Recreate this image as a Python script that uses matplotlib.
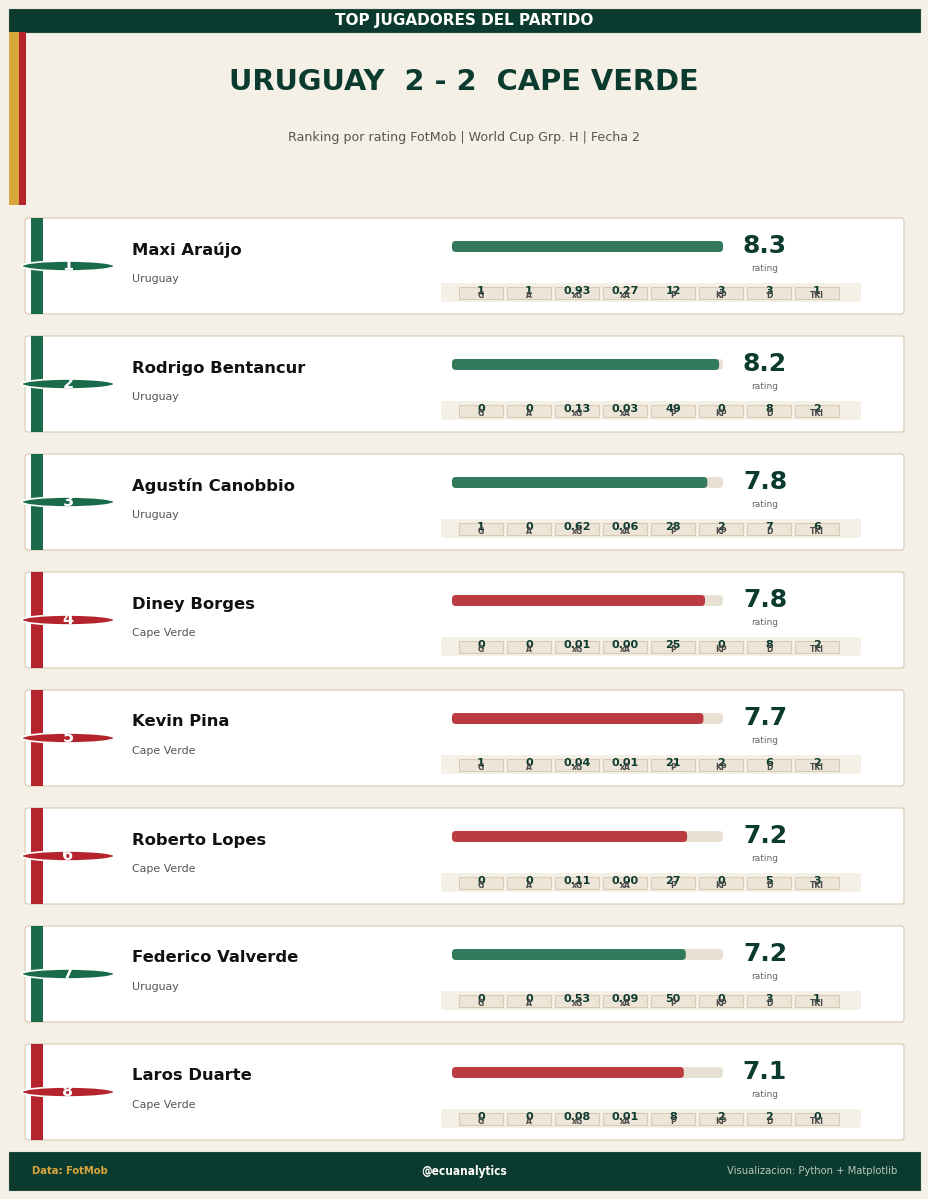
import matplotlib
matplotlib.use("Agg")
import matplotlib.pyplot as plt
from matplotlib.patches import Rectangle, FancyBboxPatch, Ellipse

# ---------------- datos ----------------
names = ["Maxi Araújo", "Rodrigo Bentancur", "Agustín Canobbio", "Diney Borges",
         "Kevin Pina", "Roberto Lopes", "Federico Valverde", "Laros Duarte"]
teams = ["Uruguay", "Uruguay", "Uruguay", "Cape Verde",
         "Cape Verde", "Cape Verde", "Uruguay", "Cape Verde"]
ratings = [8.30, 8.18, 7.82, 7.75, 7.70, 7.20, 7.16, 7.10]

stat_labels = ["G", "A", "xG", "xA", "P", "KP", "D", "TKl"]
goals = [1, 0, 1, 0, 1, 0, 0, 0]
assists = [1, 0, 0, 0, 0, 0, 0, 0]
xg = [0.93, 0.13, 0.62, 0.01, 0.04, 0.11, 0.53, 0.08]
xa = [0.27, 0.03, 0.06, 0.00, 0.01, 0.00, 0.09, 0.01]
passes = [12, 49, 28, 25, 21, 27, 50, 8]
key_passes = [3, 0, 2, 0, 2, 0, 0, 2]
duels = [3, 8, 7, 8, 6, 5, 3, 2]
tackles = [1, 2, 6, 2, 2, 3, 1, 0]

# ---------------- estilo ----------------
BG = "#f5f0e6"
DARK = "#0b3a2e"
GOLD = "#d9a63c"
RED = "#b5242c"
GREEN = "#1a6b4a"
team_color = {"Uruguay": GREEN, "Cape Verde": RED}

W, H = 929, 1199
fig = plt.figure(figsize=(W / 100, H / 100), dpi=100, facecolor=BG)
ax = fig.add_axes([0, 0, 1, 1])
ax.set_xlim(0, W)
ax.set_ylim(H, 0)
ax.axis("off")

# cabecera
ax.add_patch(Rectangle((9, 9), 911, 23, facecolor=DARK, edgecolor="#1d4a3d", lw=0.8))
ax.text(464, 20.5, "TOP JUGADORES DEL PARTIDO", color="white", fontsize=11,
        fontweight="bold", ha="center", va="center")
ax.add_patch(Rectangle((9, 32), 10, 173, facecolor=GOLD, edgecolor="none"))
ax.add_patch(Rectangle((19, 32), 7, 173, facecolor=RED, edgecolor="none"))

ax.text(464, 82, "URUGUAY  2 - 2  CAPE VERDE", color=DARK, fontsize=20.8,
        fontweight="bold", ha="center", va="center")
ax.text(464, 138, "Ranking por rating FotMob | World Cup Grp. H | Fecha 2",
        color="#555555", fontsize=9.1, ha="center", va="center")

# ---------------- tarjetas ----------------
max_r = max(ratings)
x0_bar, bar_w = 452, 271
box_x0, box_step, box_w = 459, 48, 44

for i in range(len(names)):
    top = 218 + 118 * i
    col = team_color[teams[i]]
    ax.add_patch(FancyBboxPatch((25, top), 879, 96,
                                boxstyle="round,pad=0,rounding_size=3",
                                facecolor="white", edgecolor="#ddd2bf", lw=1))
    ax.add_patch(Rectangle((31, top), 12, 96, facecolor=col, edgecolor="none"))
    ax.add_patch(Ellipse((68, top + 48), 93, 10, facecolor=col, edgecolor="white", lw=1.2))
    ax.text(68, top + 48, str(i + 1), color="white", fontsize=11.5, fontweight="bold",
            ha="center", va="center")

    ax.text(132, top + 32, names[i], color="#111111", fontsize=11.8,
            fontweight="bold", ha="left", va="center")
    ax.text(132, top + 61, teams[i], color="#555555", fontsize=7.9,
            ha="left", va="center")

    # barra de rating
    ax.add_patch(FancyBboxPatch((x0_bar, top + 23), bar_w, 11,
                                boxstyle="round,pad=0,rounding_size=4",
                                facecolor="#e8e0d3", edgecolor="none"))
    ax.add_patch(FancyBboxPatch((x0_bar, top + 23), bar_w * ratings[i] / max_r, 11,
                                boxstyle="round,pad=0,rounding_size=4",
                                facecolor=col, edgecolor="none", alpha=0.88))
    ax.text(765, top + 28, f"{ratings[i]:.1f}", color=DARK, fontsize=18,
            fontweight="bold", ha="center", va="center")
    ax.text(765, top + 50.5, "rating", color="#666666", fontsize=6.5,
            ha="center", va="center")

    # stats
    ax.add_patch(FancyBboxPatch((441, top + 65), 420, 19,
                                boxstyle="round,pad=0,rounding_size=2",
                                facecolor=BG, edgecolor="none"))
    vals = [str(goals[i]), str(assists[i]), f"{xg[i]:.2f}", f"{xa[i]:.2f}",
            str(passes[i]), str(key_passes[i]), str(duels[i]), str(tackles[i])]
    for j, (v, lab) in enumerate(zip(vals, stat_labels)):
        bx = box_x0 + box_step * j
        ax.add_patch(Rectangle((bx, top + 69), box_w, 12, facecolor="#ede5d8",
                               edgecolor="#d8cbb4", lw=0.8))
        ax.text(bx + box_w / 2, top + 72.5, v, color=DARK, fontsize=8,
                fontweight="bold", ha="center", va="center")
        ax.text(bx + box_w / 2, top + 78, lab, color="#4a4a4a", fontsize=5.5,
                fontweight="bold", ha="center", va="center")

# pie
ax.add_patch(Rectangle((9, 1152), 911, 38, facecolor=DARK, edgecolor="#1d4a3d", lw=0.8))
ax.text(32, 1171, "Data: FotMob", color=GOLD, fontsize=8, fontweight="bold",
        fontstretch="condensed", ha="left", va="center")
ax.text(464, 1171, "@ecuanalytics", color="white", fontsize=8.5, fontweight="bold",
        fontstretch="condensed", ha="center", va="center")
ax.text(897, 1171, "Visualizacion: Python + Matplotlib", color="#b9c6be", fontsize=8,
        fontstretch="condensed", ha="right", va="center")

fig.savefig("out.png", dpi=100, facecolor=BG)
